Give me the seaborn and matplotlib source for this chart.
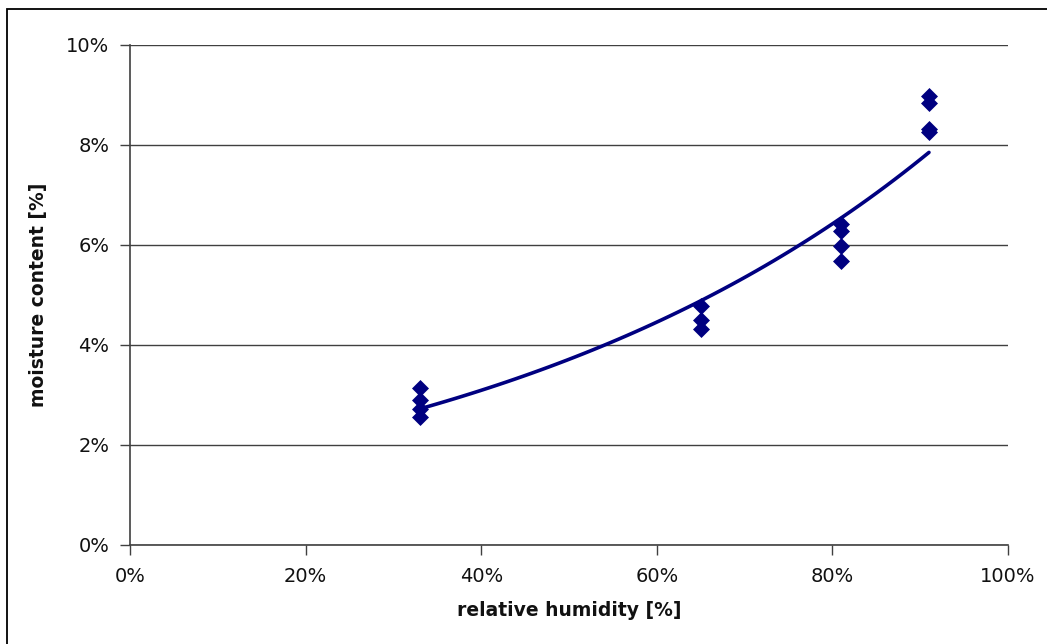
import numpy as np
import pandas as pd
import matplotlib
matplotlib.use('Agg')
import matplotlib.pyplot as plt
import matplotlib.patches as patches
from matplotlib.ticker import PercentFormatter
import seaborn as sns

# measured points (relative humidity %, moisture content %)
rh = [33, 33, 33, 33, 65, 65, 65, 81, 81, 81, 81, 91, 91, 91, 91]
mc = [3.15, 2.90, 2.72, 2.57, 4.78, 4.50, 4.33, 6.42, 6.28, 5.98, 5.68, 8.98, 8.85, 8.33, 8.26]

x_ticks = [0, 20, 40, 60, 80, 100]
y_ticks = [0, 2, 4, 6, 8, 10]

df = pd.DataFrame({'rh': rh, 'mc': mc})

# exponential trendline, fitted to the points like the spreadsheet does
b, ln_a = np.polyfit(np.array(rh) / 100, np.log(mc), 1)
trend_x = np.linspace(min(rh), max(rh), 60)
trend = pd.DataFrame({'rh': trend_x, 'mc': np.exp(ln_a) * np.exp(b * trend_x / 100)})

sns.set_theme(style='white')
plt.rcParams['font.family'] = ['DejaVu Sans']

fig = plt.figure(figsize=(10.47, 6.44), dpi=100)
ax = fig.add_axes([130 / 1047, 1 - 545 / 644, 878 / 1047, 500 / 644])

navy = '#000080'
sns.lineplot(data=trend, x='rh', y='mc', ax=ax, color=navy, linewidth=2.6)
sns.scatterplot(data=df, x='rh', y='mc', ax=ax, marker='D', s=75, color=navy,
                edgecolor=navy, linewidth=0, zorder=3)

ax.set_xlim(0, 100)
ax.set_ylim(0, 10)
ax.set_xticks(x_ticks)
ax.set_yticks(y_ticks)
ax.xaxis.set_major_formatter(PercentFormatter(decimals=0))
ax.yaxis.set_major_formatter(PercentFormatter(decimals=0))
ax.yaxis.grid(True, color='#404040', linewidth=1)
ax.set_axisbelow(True)

for s in ['top', 'right']:
    ax.spines[s].set_visible(False)
for s in ['left', 'bottom']:
    ax.spines[s].set_color('#404040')
    ax.spines[s].set_linewidth(1.2)

ax.tick_params(axis='both', direction='out', length=7, width=1, color='#404040',
               labelsize=14, labelcolor='#111111', left=True, bottom=True)
ax.tick_params(axis='x', pad=9)
ax.tick_params(axis='y', pad=8)

ax.set_xlabel('relative humidity [%]', fontsize=13.5, fontweight='bold', labelpad=11,
              color='#111111')
ax.set_ylabel('moisture content [%]', fontsize=13.5, fontweight='bold', labelpad=13,
              color='#111111')

# chart frame (only left and top edges fall inside the picture)
frame = patches.Rectangle((7 / 1047, -0.1), 1.2, 1.1 - 9 / 644, transform=fig.transFigure,
                          fill=False, edgecolor='black', linewidth=1.3)
fig.patches.append(frame)

fig.savefig('out.png', dpi=100, facecolor='white')
